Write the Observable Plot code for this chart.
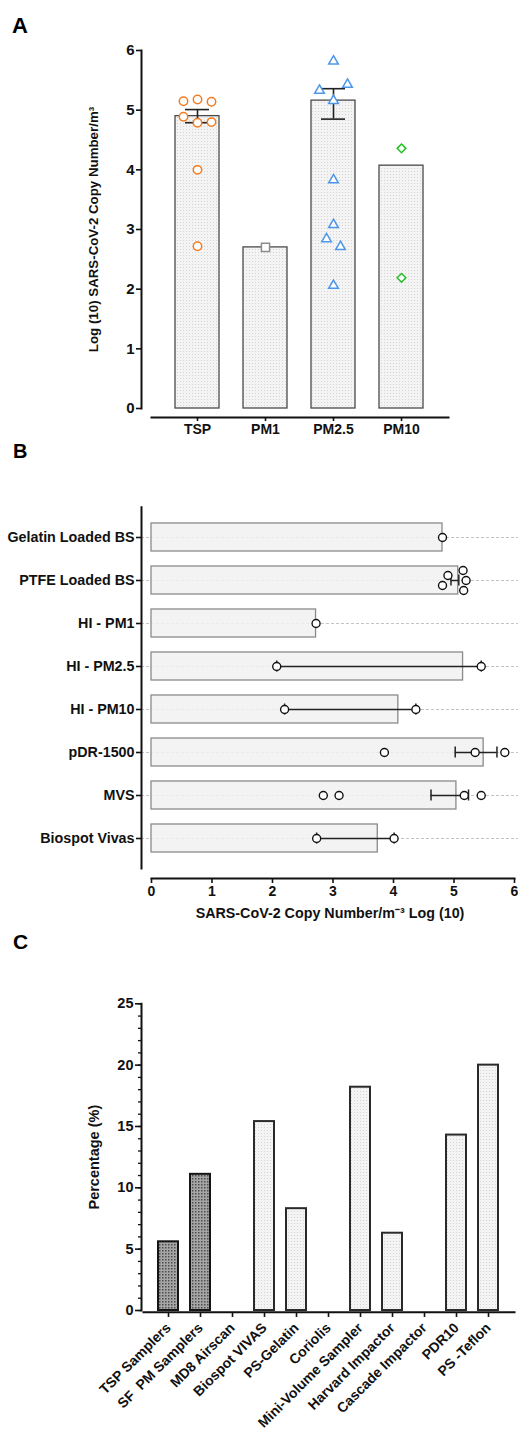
<!DOCTYPE html>
<html>
<head>
<meta charset="utf-8">
<script src="https://cdn.jsdelivr.net/npm/d3@7"></script>
<script src="https://cdn.jsdelivr.net/npm/@observablehq/plot@0.6"></script>
<style>
  body { margin: 0; background: #fff; }
  #root { position: relative; width: 518px; height: 1432px; overflow: hidden; font-family: 'Liberation Sans', Arial, Helvetica, sans-serif; background: #fff; }
  .panel { position: absolute; left: 0; }
  .panel svg { display: block; }
  .letter { position: absolute; font-weight: bold; line-height: 1; color: #000; }
</style>
</head>
<body>
<div id="root">
  <svg width="0" height="0" style="position:absolute">
    <defs>
      <pattern id="stippleLight" width="3" height="3" patternUnits="userSpaceOnUse">
        <rect width="3" height="3" fill="#f4f4f4"></rect>
        <rect width="1" height="1" fill="#d4d4d4"></rect>
      </pattern>
      <pattern id="stippleDark" width="3" height="3" patternUnits="userSpaceOnUse">
        <rect width="3" height="3" fill="#a6a6a6"></rect>
        <rect width="1.5" height="1.5" fill="#4e4e4e"></rect>
      </pattern>
    </defs>
  </svg>
  <div id="panelA" class="panel" style="top:0px"></div>
  <div id="panelB" class="panel" style="top:440px"></div>
  <div id="panelC" class="panel" style="top:920px"></div>
  <div class="letter" style="left:12px;top:15px;font-size:22px">A</div>
  <div class="letter" style="left:13px;top:441px;font-size:20px">B</div>
  <div class="letter" style="left:13px;top:931px;font-size:21px">C</div>
</div>
<script>
// ---------------- Panel A data ----------------
const aCategories = ["TSP", "PM1", "PM2.5", "PM10"];
const aBarValues = [4.90, 2.70, 5.16, 4.07];
const aErrLow = [4.79, null, 4.85, null];
const aErrHigh = [5.01, null, 5.36, null];
const aTspPoints = [5.15, 5.18, 5.14, 4.89, 4.79, 4.80, 4.00, 2.72];
const aPm1Points = [2.70];
const aPm25Points = [5.82, 5.33, 5.16, 5.43, 3.83, 3.08, 2.84, 2.71, 2.06];
const aPm10Points = [4.36, 2.19];
const aYTicks = [0, 1, 2, 3, 4, 5, 6];
const aYLabel = "Log (10) SARS-CoV-2 Copy Number/m³";

// ---------------- Panel B data ----------------
const bCategories = ["Gelatin Loaded BS", "PTFE Loaded BS", "HI - PM1", "HI - PM2.5", "HI - PM10", "pDR-1500", "MVS", "Biospot Vivas"];
const bBarValues = [4.81, 5.07, 2.72, 5.15, 4.08, 5.49, 5.04, 3.74];
const bErrLow = [null, 4.95, null, 2.07, 2.20, 5.02, 4.62, 2.73];
const bErrHigh = [null, 5.08, null, 5.45, 4.37, 5.71, 5.24, 4.01];
const bGelatinPoints = [4.81];
const bPtfePoints = [5.15, 4.90, 5.20, 4.81, 5.16];
const bHiPm1Points = [2.72];
const bHiPm25Points = [2.07, 5.45];
const bHiPm10Points = [2.20, 4.37];
const bPdrPoints = [3.85, 5.35, 5.84];
const bMvsPoints = [2.84, 3.10, 5.17, 5.45];
const bBiospotPoints = [2.73, 4.01];
const bXTicks = [0, 1, 2, 3, 4, 5, 6];
const bXLabel = "SARS-CoV-2 Copy Number/m⁻³ Log (10)";

// ---------------- Panel C data ----------------
const cCategories = ["TSP Samplers", "SF  PM Samplers", "MD8 Airscan", "Biospot VIVAS", "PS-Gelatin", "Coriolis", "Mini-Volume Sampler", "Harvard Impactor", "Cascade Impactor", "PDR10", "PS -Teflon"];
const cPercentages = [5.6, 11.1, 0, 15.4, 8.3, 0, 18.2, 6.3, 0, 14.3, 20.0];
const cHighlighted = ["TSP Samplers", "SF  PM Samplers"];
const cMajorTicks = [0, 5, 10, 15, 20, 25];
const cYLabel = "Percentage (%)";

// ---------------- helpers ----------------
const FONT = "'Liberation Sans', Arial, Helvetica, sans-serif";
const baseStyle = `font-family: ${FONT}; font-weight: bold; color: #111; background: transparent; overflow: visible;`;
const intFormat = d3.format("d");

// scatter spreading: points falling in the same value bin are spread symmetrically
function spreadSlots(values, width, offset) {
  const idx = values.map((v, i) => ({v, i}));
  const groups = d3.group(idx, d => Math.floor((d.v - offset) / width));
  const slots = new Array(values.length).fill(0);
  for (const g of groups.values()) g.forEach((d, j) => { slots[d.i] = j - (g.length - 1) / 2; });
  return slots;
}
function buildPoints(categories, sets, width, offset) {
  return sets.flatMap((vals, ci) => {
    const slots = spreadSlots(vals, width, offset);
    return vals.map((v, k) => ({cat: categories[ci], value: v, slot: slots[k]}));
  });
}

// ---------------- Panel A ----------------
const aBars = aCategories.map((c, i) => ({cat: c, value: aBarValues[i], lo: aErrLow[i], hi: aErrHigh[i]}));
const aErr = aBars.filter(d => d.lo != null);
const aPoints = buildPoints(aCategories, [aTspPoints, aPm1Points, aPm25Points, aPm10Points], 0.5, 0);
const aMarker = {
  "TSP":   {symbol: "circle",    r: 4.2, stroke: "#f47b20"},
  "PM1":   {symbol: "square",    r: 4.6, stroke: "#8c8c8c"},
  "PM2.5": {symbol: "triangle2", r: 4.6, stroke: "#4d96e8"},
  "PM10":  {symbol: "diamond2",  r: 3.9, stroke: "#22c022"}
};
const SPREAD_A = 14;
const aDots = d3.groups(aPoints, d => d.cat, d => d.slot).flatMap(([cat, bySlot]) =>
  bySlot.map(([slot, pts]) => Plot.dot(pts, {x: "cat", y: "value", dx: slot * SPREAD_A, fill: "white", strokeWidth: 1.5, ...aMarker[cat]})));

const plotA = Plot.plot({
  width: 518, height: 440,
  marginTop: 50, marginBottom: 32, marginLeft: 141, marginRight: 70,
  style: baseStyle,
  x: {domain: aCategories, range: [151, 448], padding: 0.35, label: null},
  y: {domain: [0, 6], label: null},
  marks: [
    Plot.barY(aBars, {x: "cat", y: "value", fill: "url(#stippleLight)", stroke: "#4a4a4a", strokeWidth: 1.3}),
    Plot.ruleX(aErr, {x: "cat", y1: "lo", y2: "hi", stroke: "#222", strokeWidth: 1.6}),
    Plot.tickY(aErr, {x: "cat", y: "lo", insetLeft: 10, insetRight: 10, stroke: "#222", strokeWidth: 1.6}),
    Plot.tickY(aErr, {x: "cat", y: "hi", insetLeft: 10, insetRight: 10, stroke: "#222", strokeWidth: 1.6}),
    ...aDots,
    Plot.frame({anchor: "left", stroke: "#111", strokeWidth: 2}),
    Plot.frame({anchor: "bottom", dy: 9, insetLeft: 10, stroke: "#111", strokeWidth: 2}),
    Plot.axisY({ticks: aYTicks, tickFormat: intFormat, tickSize: 5, tickPadding: 2, fontSize: 15, label: null, strokeWidth: 1.6, color: "#111"}),
    Plot.axisY({ticks: [], tickSize: 0, label: aYLabel, labelAnchor: "center", labelArrow: "none", labelOffset: 53, fontSize: 13.3, color: "#111"}),
    Plot.axisX({tickSize: 4, dy: 9, tickPadding: 3, fontSize: 14, label: null, strokeWidth: 1.6, color: "#111"})
  ]
});
document.getElementById("panelA").appendChild(plotA);

// ---------------- Panel B ----------------
const bBars = bCategories.map((c, i) => ({cat: c, value: bBarValues[i], lo: bErrLow[i], hi: bErrHigh[i]}));
const bErr = bBars.filter(d => d.lo != null);
const bPoints = buildPoints(bCategories,
  [bGelatinPoints, bPtfePoints, bHiPm1Points, bHiPm25Points, bHiPm10Points, bPdrPoints, bMvsPoints, bBiospotPoints], 0.45, 0.3);
const SPREAD_B = 5;
const bDots = d3.groups(bPoints, d => d.slot).map(([slot, pts]) =>
  Plot.dot(pts, {y: "cat", x: "value", dy: slot * SPREAD_B, r: 4, fill: "white", stroke: "#111", strokeWidth: 1.4}));

const plotB = Plot.plot({
  width: 518, height: 480,
  marginTop: 66.7, marginBottom: 52, marginLeft: 141, marginRight: 0,
  style: baseStyle,
  x: {domain: [0, 6], range: [151, 514], label: null},
  y: {domain: bCategories, padding: 0.35, label: null},
  marks: [
    Plot.gridY({stroke: "#c4c4c4", strokeOpacity: 1, strokeDasharray: "3,2", strokeWidth: 1}),
    Plot.barX(bBars, {y: "cat", x: "value", fill: "#f1f1f1", fillOpacity: 0.85, stroke: "#8a8a8a", strokeWidth: 1.3}),
    Plot.ruleY(bErr, {y: "cat", x1: "lo", x2: "hi", stroke: "#222", strokeWidth: 1.5}),
    Plot.tickX(bErr, {y: "cat", x: "lo", insetTop: 8.5, insetBottom: 8.5, stroke: "#222", strokeWidth: 1.5}),
    Plot.tickX(bErr, {y: "cat", x: "hi", insetTop: 8.5, insetBottom: 8.5, stroke: "#222", strokeWidth: 1.5}),
    ...bDots,
    Plot.frame({anchor: "left", stroke: "#111", strokeWidth: 2}),
    Plot.frame({anchor: "bottom", dy: 10, insetLeft: 10, insetRight: 4, stroke: "#111", strokeWidth: 2}),
    Plot.axisY({tickSize: 5, tickPadding: 2, fontSize: 14.3, label: null, strokeWidth: 1.6, color: "#111"}),
    Plot.axisX({ticks: bXTicks, tickFormat: intFormat, tickSize: 5, dy: 10, tickPadding: 3, fontSize: 14, strokeWidth: 1.6, color: "#111", label: null}),
    Plot.axisX({ticks: [], tickSize: 0, label: bXLabel, labelAnchor: "center", labelArrow: "none", labelOffset: 49, fontSize: 14.3, color: "#111"})
  ]
});
document.getElementById("panelB").appendChild(plotB);

// ---------------- Panel C ----------------
const cBars = cCategories.map((c, i) => ({cat: c, value: cPercentages[i]}));
const cDark = cBars.filter(d => d.value > 0 && cHighlighted.includes(d.cat));
const cLight = cBars.filter(d => d.value > 0 && !cHighlighted.includes(d.cat));

const plotC = Plot.plot({
  width: 518, height: 512,
  marginTop: 83.3, marginBottom: 122, marginLeft: 141, marginRight: 4,
  style: baseStyle,
  x: {domain: cCategories, range: [144.7, 512.7], padding: 0.36, label: null},
  y: {domain: [0, 25], label: null},
  marks: [
    Plot.barY(cDark, {x: "cat", y: "value", fill: "url(#stippleDark)", stroke: "#151515", strokeWidth: 2}),
    Plot.barY(cLight, {x: "cat", y: "value", fill: "url(#stippleLight)", stroke: "#2a2a2a", strokeWidth: 2}),
    Plot.frame({anchor: "left", stroke: "#111", strokeWidth: 2}),
    Plot.frame({anchor: "bottom", dy: 1.7, insetLeft: 2, stroke: "#111", strokeWidth: 2}),
    Plot.axisY({ticks: d3.range(0, 26), tickSize: 3, tickFormat: () => "", label: null, strokeWidth: 1.3, color: "#111"}),
    Plot.axisY({ticks: cMajorTicks, tickFormat: intFormat, tickSize: 6, tickPadding: 2, fontSize: 14.5, strokeWidth: 1.6, color: "#111",
      label: cYLabel, labelAnchor: "center", labelArrow: "none", labelOffset: 53}),
    Plot.axisX({tickSize: 5, dy: 2, tickPadding: 8, tickRotate: -45, fontSize: 14, label: null, strokeWidth: 1.6, color: "#111"})
  ]
});
document.getElementById("panelC").appendChild(plotC);
</script>
</body>
</html>
